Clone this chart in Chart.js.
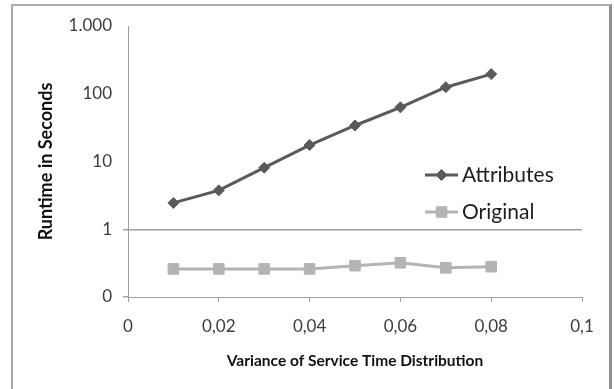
<!DOCTYPE html>
<html>
<head>
<meta charset="utf-8">
<script src="https://cdn.jsdelivr.net/npm/chart.js@4"></script>
<style>
  html, body { margin: 0; padding: 0; background: #fff; overflow: hidden; }
  #wrap { position: relative; width: 614px; height: 389px; }
  #frame { position: absolute; left: 11px; top: 4px; width: 596px; height: 420px;
           border-top: 2px solid #ababab; border-left: 2px solid #a8a8a8; border-right: 3px solid #8e8e8e;
           pointer-events: none; }
  canvas { position: absolute; left: 0; top: 0; }
</style>
</head>
<body>
<div id="wrap">
  <canvas id="c" width="614" height="389"></canvas>
  <div id="frame"></div>
</div>
<script>
// ---- data ----
const variance = [0.01, 0.02, 0.03, 0.04, 0.05, 0.06, 0.07, 0.08];
const attributes = [2.45, 3.75, 8.1, 17.5, 34, 63, 125, 195];
const original = [0.26, 0.26, 0.26, 0.26, 0.29, 0.32, 0.27, 0.28];
const yTickValues = [0.1, 1, 10, 100, 1000];
const yTickLabels = ["0", "1", "10", "100", "1.000"];
const xTickValues = [0, 0.02, 0.04, 0.06, 0.08, 0.1];
const xTickLabels = ["0", "0,02", "0,04", "0,06", "0,08", "0,1"];
const seriesNames = ["Attributes", "Original"];
const xTitle = "Variance of Service Time Distribution";
const yTitle = "Runtime in Seconds";

const FONT = "Lato, 'Open Sans', sans-serif";
const AXIS = "#a0a0a0";

const toPts = (xs, ys) => xs.map((x, i) => ({ x: x, y: ys[i] }));

const legendPlugin = {
  id: 'insideLegend',
  afterDatasetsDraw(chart) {
    const ctx = chart.ctx;
    const x0 = 425, x1 = 458, tx = 462;
    const ys = [175, 212];
    chart.data.datasets.forEach((ds, i) => {
      const y = ys[i];
      ctx.save();
      ctx.strokeStyle = ds.borderColor;
      ctx.lineWidth = ds.borderWidth;
      ctx.beginPath(); ctx.moveTo(x0, y); ctx.lineTo(x1, y); ctx.stroke();
      ctx.fillStyle = ds.pointBackgroundColor;
      ctx.strokeStyle = ds.pointBorderColor;
      ctx.lineWidth = 1;
      Chart.helpers.drawPoint(ctx, { pointStyle: ds.pointStyle, radius: ds.pointRadius, borderWidth: 1, rotation: 0 }, (x0 + x1) / 2, y);
      ctx.restore();
      ctx.save();
      ctx.fillStyle = "#1e1e1e";
      ctx.font = "21px " + FONT;
      ctx.textBaseline = "middle";
      ctx.textAlign = "left";
      ctx.fillText(ds.label, tx, y);
      ctx.restore();
    });
  }
};

new Chart(document.getElementById('c'), {
  type: 'line',
  data: {
    datasets: [
      {
        label: seriesNames[0],
        data: toPts(variance, attributes),
        borderColor: "#5a5a5a",
        backgroundColor: "#5a5a5a",
        pointBackgroundColor: "#5a5a5a",
        pointBorderColor: "#5a5a5a",
        borderWidth: 3,
        pointStyle: 'rectRot',
        pointRadius: 5.5,
        pointBorderWidth: 1,
        tension: 0
      },
      {
        label: seriesNames[1],
        data: toPts(variance, original),
        borderColor: "#b4b4b4",
        backgroundColor: "#b4b4b4",
        pointBackgroundColor: "#b4b4b4",
        pointBorderColor: "#b4b4b4",
        borderWidth: 3,
        pointStyle: 'rect',
        pointRadius: 7.5,
        pointBorderWidth: 1,
        tension: 0
      }
    ]
  },
  options: {
    responsive: false,
    animation: false,
    devicePixelRatio: 1,
    layout: { padding: { top: 26, right: 32, left: 0, bottom: 0 } },
    plugins: { legend: { display: false }, tooltip: { enabled: false } },
    scales: {
      x: {
        type: 'linear',
        min: 0, max: 0.1,
        afterBuildTicks(scale) { scale.ticks = xTickValues.map(v => ({ value: v })); },
        afterFit(scale) { scale.height = 92; },
        ticks: {
          callback: (v, i) => xTickLabels[i],
          color: "#3c3c3c",
          font: { family: FONT, size: 17 },
          padding: 14,
          maxRotation: 0,
          autoSkip: false
        },
        grid: { drawOnChartArea: false, drawTicks: true, tickLength: 5, color: AXIS, lineWidth: 1 },
        border: { display: true, color: AXIS, width: 1 },
        title: {
          display: true, text: xTitle, color: "#111",
          font: { family: FONT, size: 15.5, weight: 'bold' },
          padding: { top: 4, bottom: 19 }
        }
      },
      y: {
        type: 'logarithmic',
        min: 0.1, max: 1000,
        afterBuildTicks(scale) { scale.ticks = yTickValues.map(v => ({ value: v })); },
        afterFit(scale) { scale.width = 128; },
        ticks: {
          callback: (v, i) => yTickLabels[i],
          color: "#3c3c3c",
          font: { family: FONT, size: 17 },
          padding: 11,
          autoSkip: false
        },
        grid: {
          drawTicks: true, tickLength: 5,
          color: (c) => (c.tick && c.tick.value === 1) ? AXIS : 'rgba(0,0,0,0)',
          tickColor: (c) => (c.tick && (c.tick.value === 1 || c.tick.value === 0.1)) ? AXIS : 'rgba(0,0,0,0)',
          lineWidth: 1.5
        },
        border: { display: true, color: AXIS, width: 1 },
        title: {
          display: true, text: yTitle, color: "#111",
          font: { family: FONT, size: 18, weight: 'bold' },
          padding: { top: 35, bottom: 0 }
        }
      }
    }
  },
  plugins: [legendPlugin]
});
</script>
</body>
</html>
